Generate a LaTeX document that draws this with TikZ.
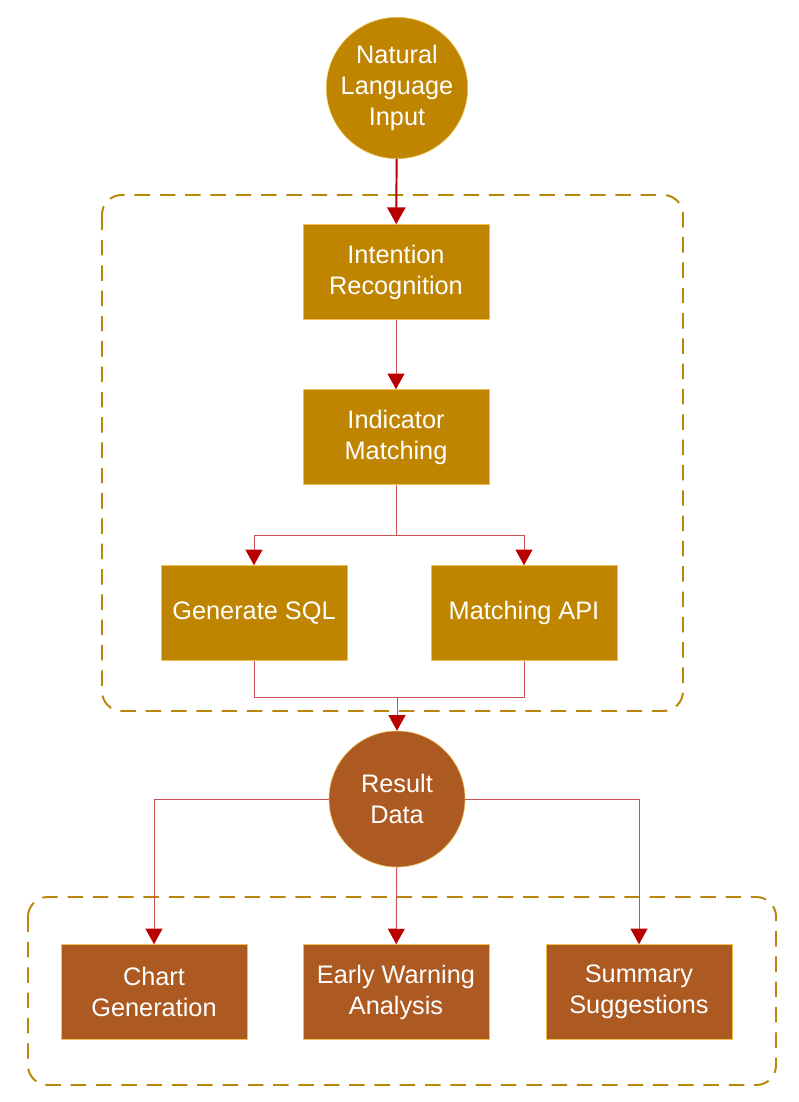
\documentclass[tikz,border=0pt]{standalone}
\usepackage{fontspec}
\setmainfont{Liberation Sans}
\usetikzlibrary{arrows.meta}
\definecolor{gold}{HTML}{BF8500}
\definecolor{rust}{HTML}{AD5A22}
\definecolor{edge}{HTML}{F0C050}
\definecolor{wire}{HTML}{CC5252}
\definecolor{tip}{HTML}{B80000}
\definecolor{frame}{HTML}{B8860B}
\tikzset{
  stage/.style={draw=edge, fill=gold, text=white, minimum width=4.65cm, minimum height=2.375cm, align=center, inner sep=0pt},
  result/.style={stage, fill=rust},
  bubble/.style={circle, draw=edge, fill=gold, text=white, minimum size=3.4cm, align=center, inner sep=0pt},
  wire/.style={draw=wire, line width=0.7pt, -{Triangle[length=11pt, width=12pt, color=tip]}},
  plain/.style={draw=wire, line width=0.7pt},
  group/.style={draw=frame, line width=1.4pt, dash pattern=on 11pt off 7pt, rounded corners=14pt}
}
\begin{document}
\begin{tikzpicture}[x=0.025cm, y=-0.025cm, font=\fontsize{18}{22}\selectfont]
\useasboundingbox (0,0) rectangle (798,1102);

% dashed groups
\draw[group] (102,195) rectangle (683,711);
\draw[group] (28,897) rectangle (776,1085);

% upper part
\node[bubble] (nli) at (397,88) {Natural\\Language\\Input};
\node[stage] (ir) at (396,272) {Intention\\Recognition};
\node[stage] (im) at (396,437) {Indicator\\Matching};
\node[stage] (sql) at (254,613) {Generate SQL};
\node[stage] (api) at (524,613) {Matching API};

% lower part
\node[bubble, fill=rust] (rd) at (397,799) {Result\\Data};
\node[result] (cg) at (154,992) {Chart\\Generation};
\node[result] (ew) at (396,992) {Early Warning\\Analysis};
\node[result] (ss) at (639,992) {Summary\\Suggestions};

\coordinate (split) at (396,535);
\coordinate (merge) at (397,697);

\draw[draw=tip, line width=1.4pt, -{Triangle[length=12pt, width=13pt]}] (nli) -- (ir);
\draw[wire] (ir) -- (im);
\draw[plain] (im) -- (split);
\draw[wire] (split) -| (sql);
\draw[wire] (split) -| (api);
\draw[plain] (sql) |- (merge);
\draw[plain] (api) |- (merge);
\draw[wire] (merge) -- (rd);
\draw[wire] (rd) -| (cg);
\draw[wire] (rd) -- (ew);
\draw[wire] (rd) -| (ss);
\end{tikzpicture}
\end{document}
